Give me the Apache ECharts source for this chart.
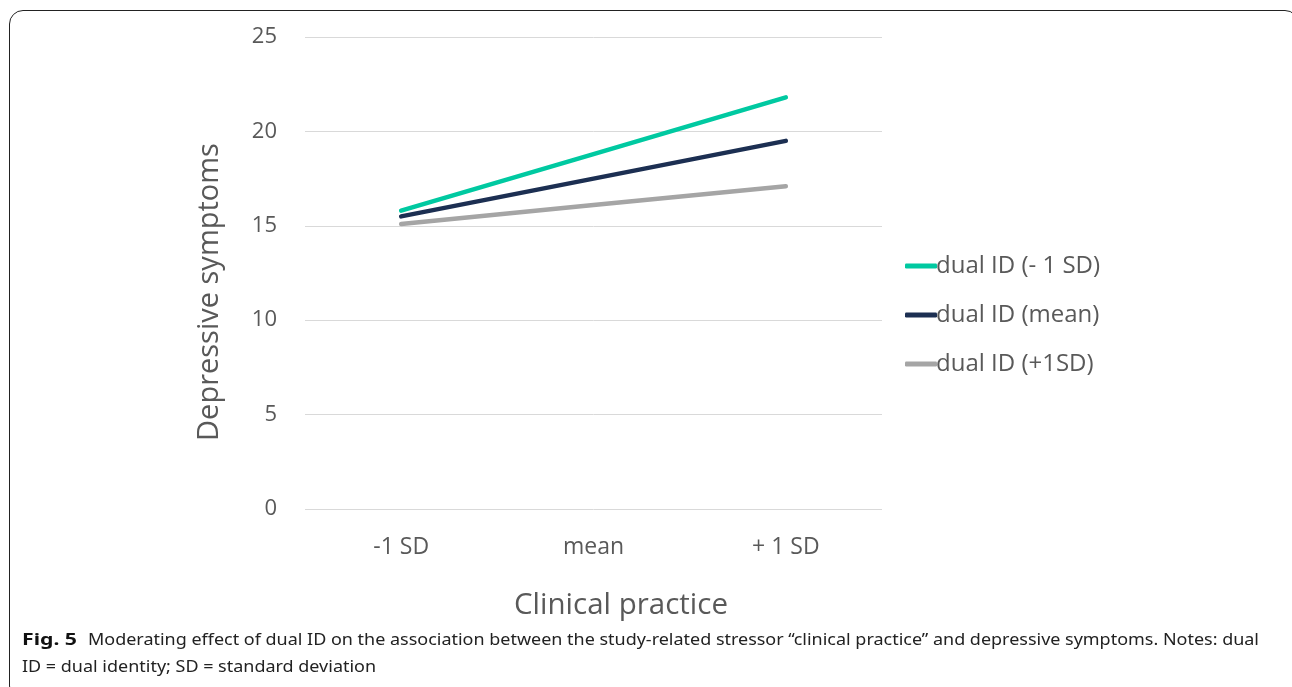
<!DOCTYPE html>
<html><head><meta charset="utf-8">
<script src="https://cdn.jsdelivr.net/npm/echarts@6/dist/echarts.min.js"></script>
<style>
html,body{margin:0;padding:0;background:#fff;}
#frame{position:absolute;left:9px;top:10px;width:1290px;height:690px;border:1.5px solid #222;border-radius:14px;box-sizing:border-box;}
#chart{position:absolute;left:0;top:0;width:1292px;height:687px;}
</style></head><body>
<div id="frame"></div>
<div id="chart"></div>
<script>
const categories = ['-1 SD', 'mean', '+ 1 SD'];
const seriesNames = ['dual ID (- 1 SD)', 'dual ID (mean)', 'dual ID (+1SD)'];
const lowDual = [15.8, 18.8, 21.8];
const meanDual = [15.5, 17.5, 19.5];
const highDual = [15.1, 16.1, 17.1];
const yTicks = [0, 5, 10, 15, 20, 25];
const yName = 'Depressive symptoms';
const xName = 'Clinical practice';
const capBold = 'Fig. 5';
const capLine1 = 'Moderating effect of dual ID on the association between the study-related stressor “clinical practice” and depressive symptoms. Notes: dual';
const capLine2 = 'ID = dual identity; SD = standard deviation';
const colors = ['#00C9A1', '#1C2F52', '#A5A5A5'];
const textColor = '#595959';
const font = 'Open Sans';
const capFont = 'Noto Sans';

const cv = document.createElement('canvas').getContext('2d');
cv.font = '16px "' + capFont + '"';
const capScale = 1171 / cv.measureText(capLine1).width;
cv.font = 'bold 16px "' + capFont + '"';
const boldScale = 55 / cv.measureText(capBold).width;

const chart = echarts.init(document.getElementById('chart'));
const mk = (name, data, c) => ({
  name, type: 'line', data, symbol: 'none', smooth: false,
  lineStyle: { width: 4.5, color: c, cap: 'round' }, itemStyle: { color: c }
});
chart.setOption({
  animation: false,
  textStyle: { fontFamily: font },
  grid: { left: 305, right: 410, top: 37, bottom: 178 },
  xAxis: {
    type: 'category', data: categories, boundaryGap: true,
    axisLine: { show: false }, axisTick: { show: false },
    axisLabel: { color: textColor, fontSize: 23, margin: 27, fontFamily: font }
  },
  yAxis: {
    type: 'value', min: yTicks[0], max: yTicks[yTicks.length - 1], interval: 5,
    axisLine: { show: false }, axisTick: { show: false },
    axisLabel: { color: textColor, fontSize: 22, margin: 28, fontFamily: font },
    splitLine: { lineStyle: { color: '#D9D9D9', width: 1 } }
  },
  legend: {
    orient: 'vertical', left: 900, top: 249, itemGap: 25,
    itemWidth: 32, itemHeight: 5, icon: 'roundRect',
    textStyle: { color: textColor, fontSize: 24, fontFamily: font, padding: [0, 0, 0, -6] },
    data: seriesNames
  },
  series: [
    mk(seriesNames[0], lowDual, colors[0]),
    mk(seriesNames[1], meanDual, colors[1]),
    mk(seriesNames[2], highDual, colors[2])
  ],
  graphic: [
    { type: 'text', x: 210, y: 292, rotation: Math.PI / 2, style: {
      text: yName, fontSize: 29, fontFamily: font, fill: textColor, align: 'center', verticalAlign: 'middle' } },
    { type: 'text', x: 621, y: 606, style: {
      text: xName, fontSize: 29.5, fontFamily: font, fill: textColor, align: 'center', verticalAlign: 'middle' } },
    { type: 'text', x: 22, y: 640, scaleX: boldScale, style: {
      text: capBold, fontSize: 16, fontWeight: 'bold', fontFamily: capFont, fill: '#111', verticalAlign: 'middle' } },
    { type: 'text', x: 88, y: 640, scaleX: capScale, style: {
      text: capLine1, fontSize: 16, fontFamily: capFont, fill: '#222', verticalAlign: 'middle' } },
    { type: 'text', x: 22, y: 667, scaleX: capScale, style: {
      text: capLine2, fontSize: 16, fontFamily: capFont, fill: '#222', verticalAlign: 'middle' } }
  ]
});
</script>
</body></html>
